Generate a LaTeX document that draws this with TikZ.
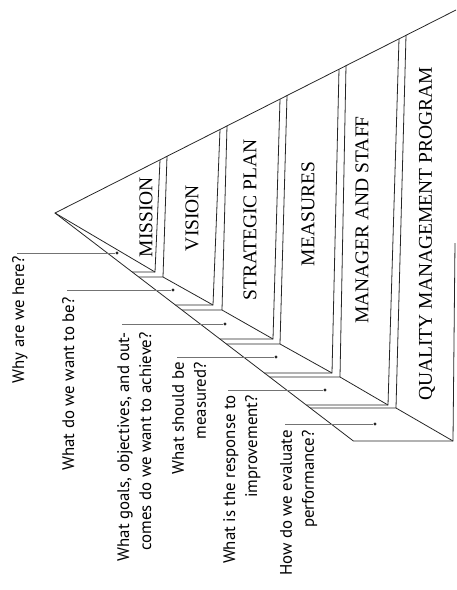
\documentclass[tikz,border=0pt]{standalone}
\usepackage{fontspec}
\setmainfont{Liberation Serif}
\newfontfamily\asksans{PT Sans}
\usetikzlibrary{calc}

\begin{document}
\begin{tikzpicture}[
    x=1pt, y=-1pt,
    every node/.style={inner sep=0pt},
    tier/.style={rotate=90, font=\fontsize{19.5}{21}\selectfont},
    ask/.style={rotate=90, anchor=north east, align=right, font=\asksans\fontsize{16.8}{22}\selectfont},
    edge/.style={line width=0.8pt, draw=black!85, line join=miter},
    leader/.style={line width=0.8pt, draw=black!55},
    dot/.style={circle, fill=black!85, minimum size=3.4pt}
]
\useasboundingbox (0,0) rectangle (456,590);
% outline of the pyramid
\coordinate (apex) at (55,213);
\coordinate (tip) at (456,10);
\coordinate (foot) at (353.4,441);
\coordinate (base) at (453,441);
\coordinate (back) at (455,243);
\draw[edge] (tip) -- (apex) -- (foot) -- (base) -- (back);
% double risers between the tiers
\foreach \xa/\xb/\ya/\xc/\xd/\yb [count=\i] in {160/155/272/167/163/277, 220/213/305/227/222/310, 280/273/339/287/280/344, 339/332/373/346/340/377, 399/388/405/406/396/408}{
  \pgfmathsetmacro\ta{213-0.5062*(\xa-55)}
  \pgfmathsetmacro\tc{213-0.5062*(\xc-55)}
  \pgfmathsetmacro\sa{55+(\ya-213)*1.3088}
  \pgfmathsetmacro\sb{55+(\yb-213)*1.3088}
  \draw[edge] (\xa,\ta) -- (\xb,\ya) -- (\sa,\ya);
  \draw[edge] (\xc,\tc) -- (\xd,\yb) -- (\sb,\yb);
  \coordinate (L\i) at (\xb,\ya);
  \coordinate (R\i) at (\xd,\yb);
}
\draw[edge] (apex) -- (L1) (R1) -- (L2) (R2) -- (L3) (R3) -- (L4) (R4) -- (L5) (R5) -- (base);

% tier names
\node[tier] (mission) at (146,217) {MISSION};
\node[tier] (vision) at (192,218) {VISION};
\node[tier] (strategic) at (250,220) {STRATEGIC PLAN};
\node[tier] (measures) at (308,214) {MEASURES};
\node[tier] (manager) at (362,220) {MANAGER AND STAFF};
\node[tier] (quality) at (427,234) {QUALITY MANAGEMENT PROGRAM};

% questions
\node[dot] (d1) at (117,253) {};
\node[dot] (d2) at (173,290) {};
\node[dot] (d3) at (225,324) {};
\node[dot] (d4) at (276,357) {};
\node[dot] (d5) at (325,390) {};
\node[dot] (d6) at (375,424) {};
\node[ask] (q1) at (12,256) {Why are we here?};
\node[ask] (q2) at (62,297) {What do we want to be?};
\node[ask] (q3) at (117,332) {What goals, objectives, and out-\\comes do we want to achieve?};
\node[ask] (q4) at (172,362) {What should be\\measured?};
\node[ask] (q5) at (223,395) {What is the response to\\improvement?};
\node[ask] (q6) at (280,430) {How do we evaluate\\performance?};
\foreach \i in {1,...,6}
  \draw[leader] ([xshift=5pt]q\i.north east |- d\i) -- (d\i);
\end{tikzpicture}
\end{document}
